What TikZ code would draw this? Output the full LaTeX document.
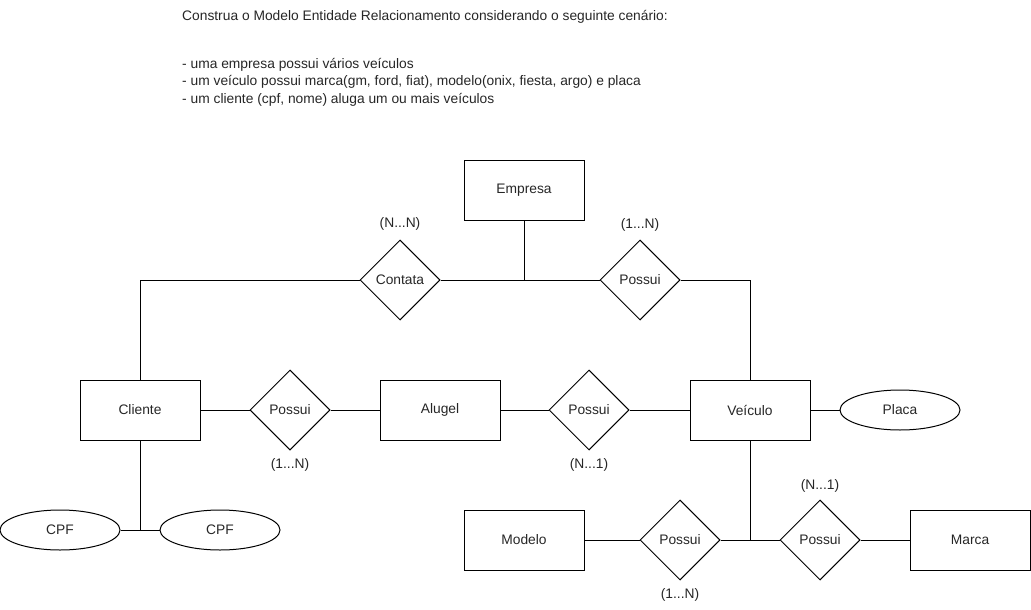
\documentclass[tikz,border=0pt]{standalone}
\usepackage{fontspec}
\setmainfont{Liberation Sans}
\usetikzlibrary{shapes.geometric}
\tikzset{
  every node/.style={font=\fontsize{13.8}{16}\selectfont, text=black!85},
  ent/.style={draw=black, line width=1pt, minimum width=120pt, minimum height=60pt, inner sep=0pt},
  rel/.style={draw=black, line width=1pt, diamond, minimum width=80pt, minimum height=80pt, inner sep=0pt},
  attr/.style={draw=black, line width=1pt, ellipse, minimum width=120pt, minimum height=40pt, inner sep=0pt},
  conn/.style={draw=black, line width=1pt},
  card/.style={inner sep=0pt},
  txt/.style={anchor=west, inner sep=0pt}
}
\begin{document}
\begin{tikzpicture}[x=1pt,y=-1pt]
\useasboundingbox (0,0) rectangle (1031,610);
% header text
\node[txt] (t0) at (182,17) {Construa o Modelo Entidade Relacionamento considerando o seguinte cenário:};
\node[txt] (t1) at (182,65) {- uma empresa possui vários veículos};
\node[txt] (t2) at (182,82) {- um veículo possui marca(gm, ford, fiat), modelo(onix, fiesta, argo) e placa};
\node[txt] (t3) at (182,100) {- um cliente (cpf, nome) aluga um ou mais veículos};
% entities
\node[ent] (empresa) at (524,190) {Empresa};
\node[ent] (cliente) at (140,410) {Cliente};
\node[ent] (aluguel) at (440,410) {Alugel};
\node[ent] (veiculo) at (750,410) {Veículo};
\node[ent] (modelo) at (524,540) {Modelo};
\node[ent] (marca) at (970,540) {Marca};
% relationships
\node[rel] (contata) at (400,280) {Contata};
\node[rel] (possuiA) at (640,280) {Possui};
\node[rel] (possuiB) at (290,410) {Possui};
\node[rel] (possuiC) at (589,410) {Possui};
\node[rel] (possuiD) at (680,540) {Possui};
\node[rel] (possuiE) at (820,540) {Possui};
% attributes
\node[attr] (placa) at (900,410) {Placa};
\node[attr] (cpf1) at (60,530) {CPF};
\node[attr] (cpf2) at (220,530) {CPF};
% cardinalities
\node[card] (c1) at (400,224) {(N...N)};
\node[card] (c2) at (640,225) {(1...N)};
\node[card] (c3) at (290,465) {(1...N)};
\node[card] (c4) at (589,465) {(N...1)};
\node[card] (c5) at (820,486) {(N...1)};
\node[card] (c6) at (680,595) {(1...N)};
% junctions
\coordinate (j1) at (524,280);
\coordinate (j2) at (750,540);
\coordinate (j3) at (140,530);
% connectors
\draw[conn] (empresa.south) -- (j1);
\draw[conn] (contata.east) -- (possuiA.west);
\draw[conn] (contata.west) -| (cliente.north);
\draw[conn] (possuiA.east) -| (veiculo.north);
\draw[conn] (cliente.east) -- (possuiB.west);
\draw[conn] (possuiB.east) -- (aluguel.west);
\draw[conn] (aluguel.east) -- (possuiC.west);
\draw[conn] (possuiC.east) -- (veiculo.west);
\draw[conn] (veiculo.east) -- (placa.west);
\draw[conn] (veiculo.south) -- (j2);
\draw[conn] (possuiD.east) -- (possuiE.west);
\draw[conn] (modelo.east) -- (possuiD.west);
\draw[conn] (possuiE.east) -- (marca.west);
\draw[conn] (cliente.south) -- (j3);
\draw[conn] (cpf1.east) -- (cpf2.west);
\end{tikzpicture}
\end{document}
